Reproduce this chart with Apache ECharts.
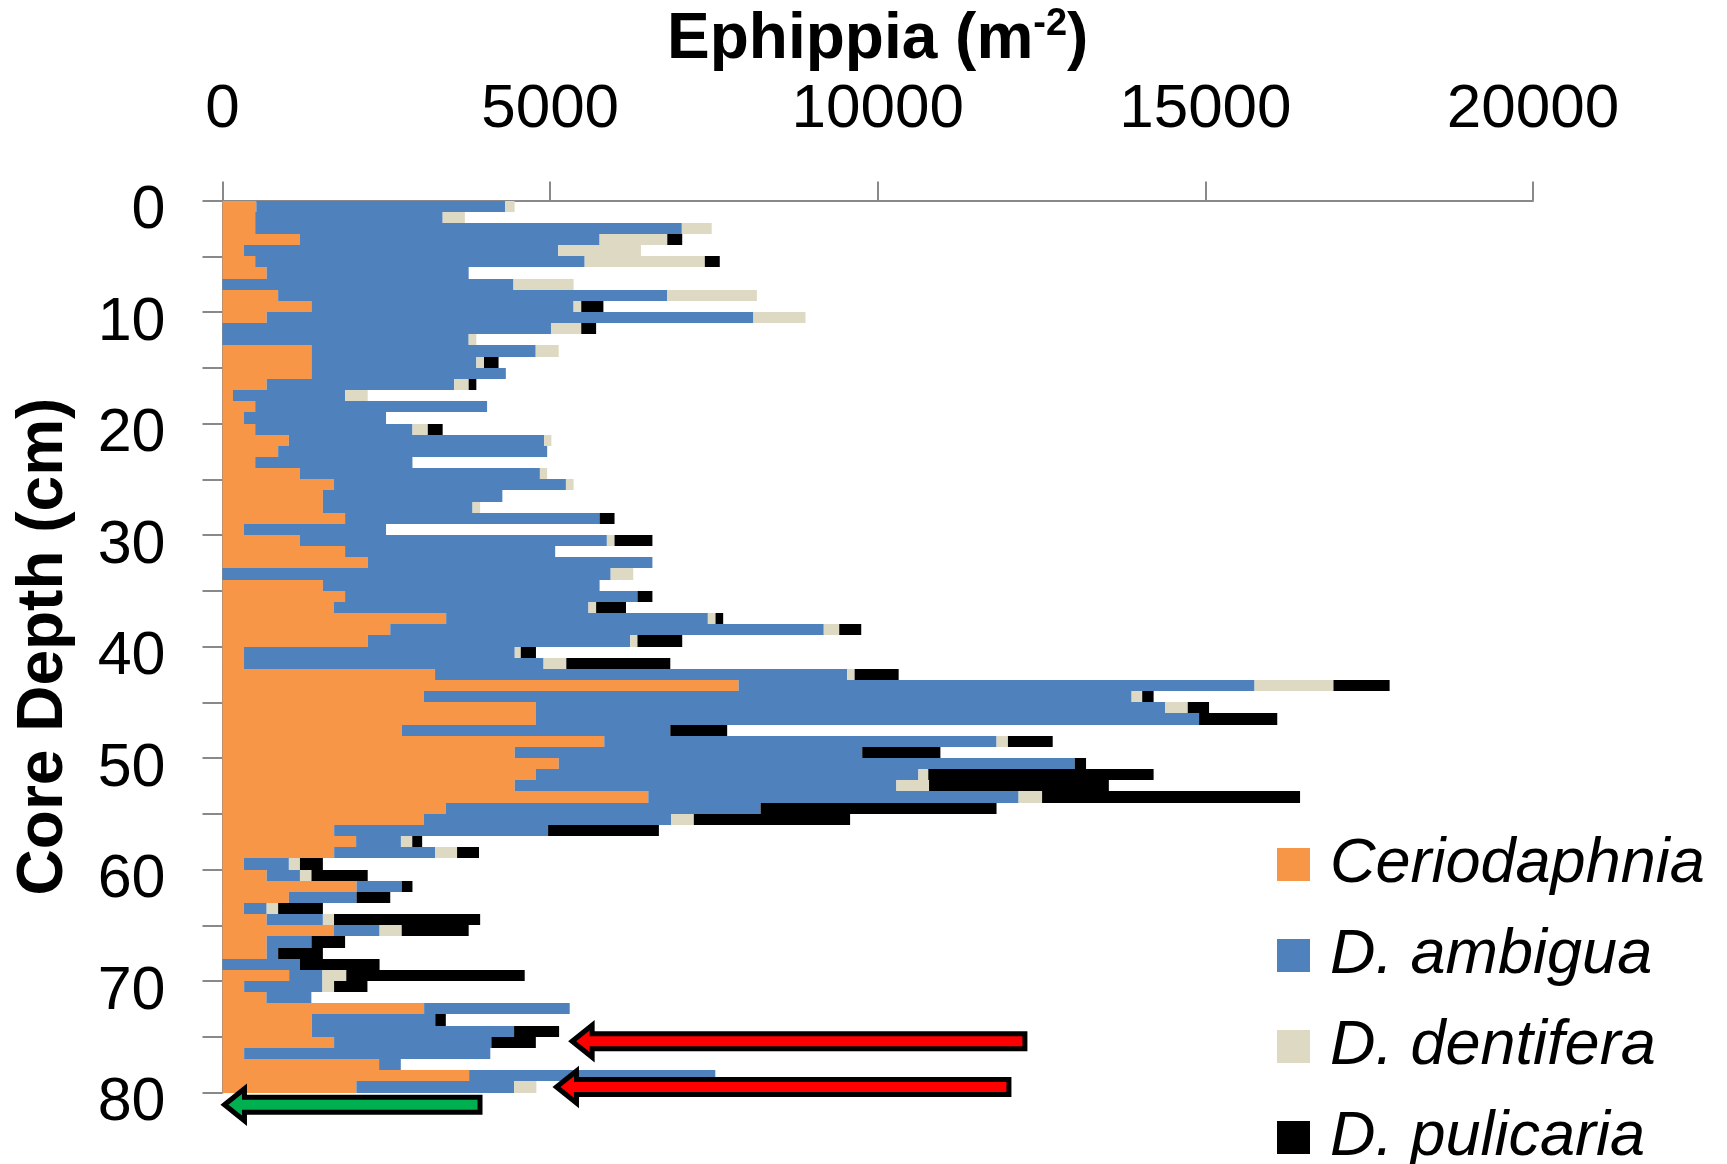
<!DOCTYPE html>
<html><head><meta charset="utf-8">
<script src="https://cdn.jsdelivr.net/npm/echarts@6/dist/echarts.min.js"></script>
<style>html,body{margin:0;padding:0;background:#fff}#c{width:1727px;height:1164px}</style>
</head><body><div id="c"></div>
<script>
// Top of each 1-cm core slice (cm)
const depthTop = [0,1,2,3,4,5,6,7,8,9,10,11,12,13,14,15,16,17,18,19,20,21,22,23,24,25,26,27,28,29,30,31,32,33,34,35,36,37,38,39,40,41,42,43,44,45,46,47,48,49,50,51,52,53,54,55,56,57,58,59,60,61,62,63,64,65,66,67,68,69,70,71,72,73,74,75,76,77,78,79];
const ceriodaphnia = [516,499,499,1182,324,499,674,0,849,1358,674,0,0,1358,1358,1358,674,160,499,324,499,1013,849,499,1182,1702,1532,1532,1871,324,1182,1871,2216,0,1532,1871,1702,3413,2560,2216,326,326,3244,7876,3070,4784,4784,2734,5826,4460,5131,4784,4460,6498,3406,3070,1704,2039,1704,324,674,2046,1013,324,674,1702,674,674,0,1017,330,670,3077,1364,1364,1703,330,2390,3764,2043];
const ambigua = [3796,2861,6511,4573,4800,5028,3083,4441,5939,4000,7428,5013,3757,3422,2516,2966,2861,1711,3539,2172,2400,3895,4106,2400,3662,3539,2739,2284,3884,2172,4684,3206,4345,5924,4223,4462,3883,3994,6616,4006,4134,4574,6288,7874,10804,9600,10120,4100,5987,5303,7875,5836,5824,5651,4806,3775,3265,684,1540,689,508,689,1033,350,858,695,684,175,1182,508,1195,686,2222,1883,3086,2400,3757,331,3757,2407];
const dentifera = [146,339,456,1033,1262,1834,0,917,1367,117,795,462,117,350,117,0,222,345,0,0,234,111,0,0,111,117,0,116,0,0,117,0,0,345,0,0,117,117,236,111,92,347,115,1205,162,347,0,0,174,0,0,151,499,359,0,348,0,173,336,169,176,0,0,175,170,338,0,0,0,364,178,0,0,0,0,0,0,0,0,340];
const pulicaria = [0,0,0,228,0,228,0,0,0,338,0,227,0,0,222,0,117,0,0,0,227,0,0,0,0,0,0,0,228,0,578,0,0,0,0,228,456,117,336,683,232,1587,672,857,174,325,1193,868,683,1193,173,3439,2744,3937,3601,2385,1691,151,335,350,858,164,514,683,2230,1022,513,683,1215,2723,509,0,0,161,687,679,0,0,0,0];
const seriesNames = ['Ceriodaphnia', 'D. ambigua', 'D. dentifera', 'D. pulicaria'];
const seriesColors = ['#F79646', '#4F81BD', '#DDD9C3', '#000000'];
const xTickValues = [0, 5000, 10000, 15000, 20000];
// Annotation arrows (value space): tip x, tail x, depth
const arrowTip = [5336, 5097, 30];
const arrowTail = [12246, 12002, 3930];
const arrowDepth = [75.4, 79.5, 81.1];
const arrowColors = ['#FF0000', '#FF0000', '#00B050'];

const allSeries = [ceriodaphnia, ambigua, dentifera, pulicaria];
const cum = depthTop.map(() => 0);
const barSeries = allSeries.map((vals, k) => {
  const data = depthTop.map((d, i) => {
    const s = cum[i];
    const e = s + vals[i];
    cum[i] = e;
    return [s, e, d];
  });
  return {
    type: 'custom',
    name: seriesNames[k],
    color: seriesColors[k],
    itemStyle: { color: seriesColors[k] },
    encode: { x: [0, 1], y: 2 },
    clip: false,
    renderItem: function (params, api) {
      const s = api.value(0), e = api.value(1), top = api.value(2);
      if (!(e > s)) return null;
      const p1 = api.coord([s, top]);
      const p2 = api.coord([e, top + 1]);
      const y1 = Math.round(p1[1]), y2 = Math.round(p2[1]);
      return {
        type: 'rect',
        shape: { x: p1[0], y: y1, width: p2[0] - p1[0], height: y2 - y1 },
        style: { fill: seriesColors[k] }
      };
    },
    data: data
  };
});

const arrowSeries = {
  type: 'custom',
  name: 'arrows',
  clip: false,
  z: 10,
  encode: { x: [0, 1], y: 2 },
  renderItem: function (params, api) {
    const tip = api.coord([api.value(0), api.value(2)]);
    const tail = api.coord([api.value(1), api.value(2)]);
    const hl = 20, hh = 16, sh = 7.5;
    const y = tip[1], x0 = tip[0], x1 = tail[0];
    return {
      type: 'polygon',
      shape: { points: [[x0, y], [x0 + hl, y - hh], [x0 + hl, y - sh], [x1, y - sh], [x1, y + sh], [x0 + hl, y + sh], [x0 + hl, y + hh]] },
      style: { fill: arrowColors[params.dataIndex], stroke: '#000', lineWidth: 5, lineJoin: 'miter' }
    };
  },
  data: arrowTip.map((t, i) => [t, arrowTail[i], arrowDepth[i]])
};

const axisGrey = '#898989';
const chart = echarts.init(document.getElementById('c'), null, { renderer: 'canvas' });
chart.setOption({
  backgroundColor: '#fff',
  animation: false,
  grid: { left: 222.5, top: 200.5, width: 1310.5, height: 892, containLabel: false, outerBoundsMode: 'none' },
  xAxis: {
    type: 'value', position: 'top', min: xTickValues[0], max: xTickValues[xTickValues.length - 1], interval: 5000,
    name: '{a|Ephippia (m}{s|-2}{a|)}', nameLocation: 'middle', nameGap: 125,
    nameTextStyle: {
      rich: {
        a: { fontSize: 64, fontWeight: 'bold', fontFamily: 'Liberation Sans', color: '#000', lineHeight: 70 },
        s: { fontSize: 38, fontWeight: 'bold', fontFamily: 'Liberation Sans', color: '#000', lineHeight: 42, verticalAlign: 'top' }
      }
    },
    axisLine: { show: true, lineStyle: { color: axisGrey, width: 2 } },
    axisTick: { show: true, inside: false, length: 19, lineStyle: { color: axisGrey, width: 2 } },
    splitLine: { show: false },
    axisLabel: {
      fontSize: 62, fontFamily: 'Liberation Sans', color: '#000', margin: 60, showMinLabel: true, showMaxLabel: true,
      formatter: function (v) { return String(v); }
    }
  },
  yAxis: {
    type: 'value', inverse: true, min: 0, max: 80, interval: 5,
    name: 'Core Depth (cm)', nameLocation: 'middle', nameRotate: 90, nameGap: 146,
    nameTextStyle: { fontSize: 64, fontWeight: 'bold', fontFamily: 'Liberation Sans', color: '#000' },
    axisLine: { show: true, onZero: false, lineStyle: { color: axisGrey, width: 2 } },
    axisTick: { show: true, inside: false, length: 20, lineStyle: { color: axisGrey, width: 2 } },
    splitLine: { show: false },
    axisLabel: {
      fontSize: 61, fontFamily: 'Liberation Sans', color: '#000', margin: 57,
      verticalAlign: 'top', lineHeight: 22,
      showMinLabel: true, showMaxLabel: true,
      formatter: function (v) { return v % 10 === 0 ? String(v) : ''; }
    }
  },
  legend: {
    data: seriesNames, orient: 'vertical', left: 1277, top: 833, height: 400, padding: 0,
    icon: 'rect', itemWidth: 33, itemHeight: 33, itemGap: 28, selectedMode: false,
    textStyle: { fontSize: 63, fontStyle: 'italic', fontFamily: 'Liberation Sans', color: '#000', lineHeight: 50, padding: [0, 0, 0, 15] }
  },
  series: barSeries.concat([arrowSeries])
});
</script>
</body></html>
